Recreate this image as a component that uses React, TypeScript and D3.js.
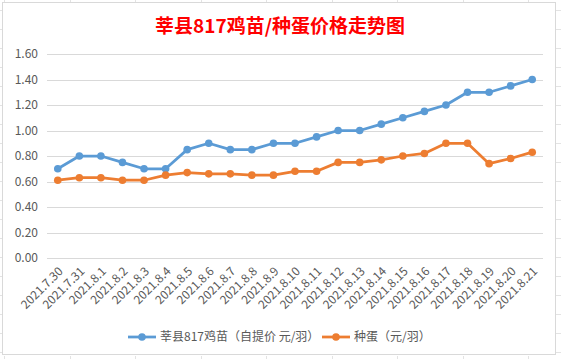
import React, { useEffect, useRef } from 'react';
import * as d3 from 'd3';

// dates on the x axis
const categories = [
  '2021.7.30', '2021.7.31', '2021.8.1', '2021.8.2', '2021.8.3', '2021.8.4',
  '2021.8.5', '2021.8.6', '2021.8.7', '2021.8.8', '2021.8.9', '2021.8.10',
  '2021.8.11', '2021.8.12', '2021.8.13', '2021.8.14', '2021.8.15', '2021.8.16',
  '2021.8.17', '2021.8.18', '2021.8.19', '2021.8.20', '2021.8.21',
];

// 莘县817鸡苗 (自提价 元/羽)
const chickPrices = [
  0.70, 0.80, 0.80, 0.75, 0.70, 0.70, 0.85, 0.90, 0.85, 0.85, 0.90, 0.90,
  0.95, 1.00, 1.00, 1.05, 1.10, 1.15, 1.20, 1.30, 1.30, 1.35, 1.40,
];

// 种蛋 (元/羽)
const eggPrices = [
  0.61, 0.63, 0.63, 0.61, 0.61, 0.65, 0.67, 0.66, 0.66, 0.65, 0.65, 0.68,
  0.68, 0.75, 0.75, 0.77, 0.80, 0.82, 0.90, 0.90, 0.74, 0.78, 0.83,
];

const yTicks = [0, 0.2, 0.4, 0.6, 0.8, 1.0, 1.2, 1.4, 1.6];

const seriesNames = ['莘县817鸡苗（自提价 元/羽）', '种蛋（元/羽）'];
const seriesColors = ['#5b9bd5', '#ed7d31'];

const W = 561;
const H = 359;

export default function App() {
  const svgRef = useRef<SVGSVGElement | null>(null);

  useEffect(() => {
    if (!svgRef.current) return;
    const svg = d3.select(svgRef.current);
    svg.selectAll('*').remove();

    const font = '"Microsoft YaHei", "Noto Sans CJK SC", "Noto Sans", sans-serif';
    const textColor = '#595959';

    // background + faint spreadsheet cells around the chart
    svg.append('rect').attr('width', W).attr('height', H).attr('fill', '#fff');
    const cellLines = svg.append('g').attr('stroke', '#e3e3e3').attr('stroke-width', 1);
    d3.range(10, H, 19).forEach((y) => {
      cellLines.append('line').attr('x1', 0).attr('x2', 2).attr('y1', y + 0.5).attr('y2', y + 0.5);
      cellLines.append('line').attr('x1', 556).attr('x2', W).attr('y1', y + 0.5).attr('y2', y + 0.5);
    });
    d3.range(4, W, 65.5).forEach((x) => {
      cellLines.append('line').attr('x1', Math.round(x) + 0.5).attr('x2', Math.round(x) + 0.5).attr('y1', 0).attr('y2', 2);
      cellLines.append('line').attr('x1', Math.round(x) + 0.5).attr('x2', Math.round(x) + 0.5).attr('y1', 356).attr('y2', H);
    });

    // chart frame
    svg.append('rect')
      .attr('x', 2.5).attr('y', 2.5).attr('width', 553).attr('height', 352)
      .attr('fill', '#fff').attr('stroke', '#d9d9d9');

    // title
    svg.append('text')
      .attr('x', 280).attr('y', 33)
      .attr('text-anchor', 'middle')
      .attr('fill', '#ff0000')
      .attr('font-family', '"Noto Sans CJK SC", sans-serif')
      .attr('font-weight', 'bold')
      .attr('font-size', 19)
      .text('莘县817鸡苗/种蛋价格走势图');

    const margin = { left: 47, right: 543, top: 54, bottom: 258 };

    const x = d3.scaleBand<string>().domain(categories).range([margin.left, margin.right]);
    const y = d3.scaleLinear().domain([0, 1.6]).range([margin.bottom, margin.top]);
    const cx = (i: number) => (x(categories[i]) as number) + x.bandwidth() / 2;

    // gridlines
    svg.append('g')
      .selectAll('line')
      .data(yTicks)
      .join('line')
      .attr('x1', margin.left).attr('x2', margin.right)
      .attr('y1', (d) => Math.round(y(d)) + 0.5).attr('y2', (d) => Math.round(y(d)) + 0.5)
      .attr('stroke', '#d9d9d9').attr('stroke-width', 1);

    // y labels
    svg.append('g')
      .selectAll('text')
      .data(yTicks)
      .join('text')
      .attr('x', 38).attr('y', (d) => y(d))
      .attr('dy', '0.35em')
      .attr('text-anchor', 'end')
      .attr('fill', textColor)
      .attr('font-family', font)
      .attr('font-size', 12)
      .text((d) => d.toFixed(2));

    // x labels, rotated
    svg.append('g')
      .selectAll('text')
      .data(categories)
      .join('text')
      .attr('transform', (d, i) => 'translate(' + (cx(i) + 6) + ',' + 272 + ') rotate(-45)')
      .attr('text-anchor', 'end')
      .attr('fill', textColor)
      .attr('font-family', font)
      .attr('font-size', 12)
      .text((d) => d);

    // lines + markers
    const series = [chickPrices, eggPrices];
    const line = d3.line<number>().x((d, i) => cx(i)).y((d) => y(d));
    series.forEach((vals, s) => {
      svg.append('path')
        .datum(vals)
        .attr('d', line)
        .attr('fill', 'none')
        .attr('stroke', seriesColors[s])
        .attr('stroke-width', 2.75)
        .attr('stroke-linejoin', 'round')
        .attr('stroke-linecap', 'round');
      svg.append('g')
        .selectAll('circle')
        .data(vals)
        .join('circle')
        .attr('cx', (d, i) => cx(i))
        .attr('cy', (d) => y(d))
        .attr('r', 3.8)
        .attr('fill', seriesColors[s]);
    });

    // legend
    const legendY = 337;
    const legendItems = [
      { x: 128, name: seriesNames[0], color: seriesColors[0] },
      { x: 322, name: seriesNames[1], color: seriesColors[1] },
    ];
    legendItems.forEach((it) => {
      svg.append('line')
        .attr('x1', it.x).attr('x2', it.x + 28)
        .attr('y1', legendY).attr('y2', legendY)
        .attr('stroke', it.color).attr('stroke-width', 2.75);
      svg.append('circle')
        .attr('cx', it.x + 14).attr('cy', legendY).attr('r', 3.8).attr('fill', it.color);
      svg.append('text')
        .attr('x', it.x + 32).attr('y', legendY)
        .attr('dy', '0.35em')
        .attr('fill', textColor)
        .attr('font-family', font)
        .attr('font-size', 12)
        .text(it.name);
    });
  }, []);

  return (
    <svg
      ref={svgRef}
      width={W}
      height={H}
      style={{ display: 'block', position: 'absolute', left: 0, top: 0 }}
    />
  );
}
